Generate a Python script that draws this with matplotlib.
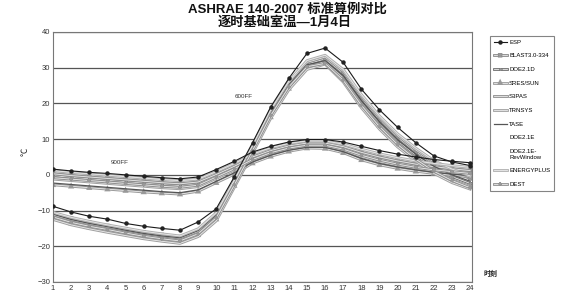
import matplotlib
matplotlib.use("Agg")
import matplotlib.pyplot as plt
import matplotlib.patheffects as pe

plt.rcParams['font.family'] = ['Liberation Sans', 'Noto Sans CJK SC', 'DejaVu Sans']

hours = list(range(1, 25))
programs = ["ESP", "BLAST3.0-334", "DOE2.1D", "SRES/SUN", "S3PAS", "TRNSYS", "TASE",
            "DOE2.1E", "DOE2.1E-\nRevWindow", "ENERGYPLUS", "DEST"]

esp_600 = [-8.8, -10.4, -11.6, -12.4, -13.6, -14.4, -15.0, -15.5, -13.2, -9.5, -0.5, 9.0, 19.0, 27.0, 34.0, 35.5, 31.5, 24.0, 18.2, 13.3, 9.0, 5.3, 3.6, 2.6]
blast_600 = [-10.8, -12.2, -13.3, -14.3, -15.2, -16.1, -16.8, -17.4, -15.5, -11.0, -2.0, 7.5, 17.5, 25.5, 31.0, 32.5, 28.5, 21.5, 15.5, 10.5, 6.5, 3.2, 0.8, -1.0]
doe21d_600 = [-11.5, -13.0, -14.1, -15.0, -15.9, -16.8, -17.5, -18.1, -16.2, -11.8, -2.6, 7.0, 17.0, 25.0, 30.5, 31.5, 27.2, 20.3, 14.5, 9.5, 5.5, 2.0, -0.5, -2.4]
sres_600 = [-12.0, -13.5, -14.6, -15.6, -16.5, -17.4, -18.1, -18.7, -16.8, -12.4, -3.0, 6.5, 16.2, 24.2, 30.0, 31.8, 27.0, 19.8, 13.8, 8.8, 4.6, 1.2, -1.4, -3.2]
s3pas_600 = [-11.2, -12.6, -13.7, -14.6, -15.5, -16.4, -17.1, -17.7, -15.8, -11.3, -2.2, 7.7, 17.8, 25.8, 31.5, 33.0, 29.0, 22.0, 16.0, 11.0, 7.0, 3.6, 1.2, -0.6]
trnsys_600 = [-12.5, -14.0, -15.1, -16.1, -17.0, -17.9, -18.6, -19.2, -17.3, -12.9, -3.5, 6.0, 15.8, 23.8, 29.5, 31.0, 26.0, 18.8, 12.8, 7.8, 3.8, 0.4, -2.2, -4.0]
tase_600 = [-11.0, -12.5, -13.6, -14.5, -15.5, -16.4, -17.1, -17.6, -15.6, -11.2, -2.3, 7.2, 17.2, 25.2, 30.8, 32.0, 27.8, 20.8, 14.8, 9.8, 5.8, 2.4, 0.0, -1.8]
doe21e_600 = [-11.3, -12.8, -13.9, -14.8, -15.7, -16.6, -17.3, -17.9, -16.0, -11.5, -2.4, 7.3, 17.3, 25.3, 30.9, 32.2, 27.6, 20.6, 14.6, 9.6, 5.6, 2.2, -0.2, -2.0]
doe21e_rw_600 = [-11.6, -13.1, -14.2, -15.1, -16.0, -16.9, -17.6, -18.2, -16.3, -11.9, -2.7, 6.9, 16.9, 24.9, 30.4, 31.6, 27.0, 20.0, 14.1, 9.1, 5.1, 1.7, -0.8, -2.7]
eplus_600 = [-10.5, -11.9, -13.0, -14.0, -14.9, -15.8, -16.5, -17.1, -15.1, -10.6, -1.5, 8.2, 18.2, 26.2, 32.0, 33.5, 29.5, 22.5, 16.5, 11.5, 7.5, 4.0, 1.6, -0.3]
dest_600 = [-11.8, -13.3, -14.4, -15.3, -16.3, -17.2, -17.9, -18.5, -16.5, -12.0, -2.8, 6.8, 16.6, 24.6, 30.3, 31.2, 26.5, 19.5, 13.5, 8.5, 4.4, 1.0, -1.6, -3.6]

esp_900 = [1.6, 1.1, 0.7, 0.4, 0.0, -0.4, -0.8, -1.1, -0.6, 1.5, 3.8, 6.4, 8.0, 9.2, 9.9, 9.9, 9.2, 8.0, 6.8, 5.8, 5.0, 4.3, 3.8, 3.4]
blast_900 = [0.8, 0.3, -0.1, -0.5, -0.9, -1.3, -1.7, -2.0, -1.6, 0.5, 2.8, 5.4, 7.2, 8.4, 9.2, 9.2, 8.3, 6.8, 5.5, 4.4, 3.5, 2.8, 2.2, 1.7]
doe21d_900 = [-0.2, -0.7, -1.1, -1.5, -1.9, -2.3, -2.7, -3.0, -2.5, -0.3, 2.0, 4.6, 6.5, 7.8, 8.6, 8.6, 7.6, 5.9, 4.5, 3.4, 2.5, 1.8, 1.2, 0.7]
sres_900 = [-2.8, -3.2, -3.6, -4.0, -4.4, -4.8, -5.1, -5.4, -4.6, -2.2, 0.2, 3.3, 5.2, 6.6, 7.5, 7.4, 6.2, 4.2, 2.8, 1.8, 1.0, 0.4, -0.1, -0.5]
s3pas_900 = [0.3, -0.2, -0.6, -1.0, -1.4, -1.8, -2.2, -2.5, -2.0, 0.1, 2.4, 5.0, 6.8, 8.1, 8.9, 8.9, 7.9, 6.3, 5.0, 3.9, 3.0, 2.3, 1.7, 1.2]
trnsys_900 = [-1.2, -1.6, -2.0, -2.4, -2.8, -3.2, -3.6, -3.9, -3.3, -1.0, 1.3, 4.0, 6.0, 7.3, 8.1, 8.0, 6.9, 5.1, 3.7, 2.6, 1.8, 1.1, 0.6, 0.1]
tase_900 = [-2.3, -2.7, -3.1, -3.5, -3.9, -4.3, -4.7, -5.0, -4.2, -1.8, 0.6, 3.6, 5.5, 6.9, 7.7, 7.7, 6.5, 4.6, 3.2, 2.2, 1.4, 0.7, 0.2, -0.2]
doe21e_900 = [-0.5, -1.0, -1.4, -1.8, -2.2, -2.6, -3.0, -3.3, -2.8, -0.5, 1.8, 4.4, 6.3, 7.6, 8.4, 8.4, 7.4, 5.7, 4.3, 3.2, 2.3, 1.6, 1.0, 0.5]
doe21e_rw_900 = [-0.6, -1.1, -1.5, -1.9, -2.3, -2.7, -3.1, -3.4, -2.9, -0.6, 1.7, 4.3, 6.2, 7.5, 8.3, 8.3, 7.3, 5.6, 4.2, 3.1, 2.2, 1.5, 0.9, 0.4]
eplus_900 = [1.2, 0.7, 0.3, -0.1, -0.5, -0.9, -1.3, -1.6, -1.2, 0.9, 3.2, 5.8, 7.6, 8.8, 9.5, 9.5, 8.6, 7.2, 5.9, 4.8, 3.9, 3.2, 2.6, 2.1]
dest_900 = [-0.8, -1.2, -1.6, -2.0, -2.4, -2.8, -3.2, -3.5, -2.9, -0.6, 1.7, 4.3, 6.2, 7.5, 8.3, 8.3, 7.2, 5.5, 4.1, 3.0, 2.1, 1.4, 0.9, 0.4]

y_ticks = [-30, -20, -10, 0, 10, 20, 30, 40]

series_600 = [esp_600, blast_600, doe21d_600, sres_600, s3pas_600, trnsys_600, tase_600,
              doe21e_600, doe21e_rw_600, eplus_600, dest_600]
series_900 = [esp_900, blast_900, doe21d_900, sres_900, s3pas_900, trnsys_900, tase_900,
              doe21e_900, doe21e_rw_900, eplus_900, dest_900]

styles = [
    dict(color='#1a1a1a', lw=0.8, marker='o', ms=2.2, tube=None),
    dict(color='#ececec', lw=0.6, marker='s', ms=1.2, tube='#8a8a8a'),
    dict(color='#ececec', lw=0.6, marker='+', ms=2.0, tube='#707070'),
    dict(color='#ececec', lw=0.6, marker='^', ms=1.2, tube='#9a9a9a'),
    dict(color='#ececec', lw=0.6, marker=None, ms=0, tube='#8f8f8f'),
    dict(color='#ececec', lw=0.6, marker=None, ms=0, tube='#a0a0a0'),
    dict(color='#555555', lw=0.9, marker=None, ms=0, tube=None),
    dict(color='#ffffff', lw=0.0, marker=None, ms=0, tube=None),
    dict(color='#ffffff', lw=0.0, marker=None, ms=0, tube=None),
    dict(color='#ececec', lw=0.6, marker=None, ms=0, tube='#b0b0b0'),
    dict(color='#ececec', lw=0.6, marker='x', ms=1.4, tube='#909090'),
]

fig = plt.figure(figsize=(5.81, 2.93), dpi=100)
ax = fig.add_axes([53/581, 1-282/293, (472-53)/581, (282-32)/293])

handles = []
for name, s6, s9, st in zip(programs, series_600, series_900, styles):
    pes = [pe.withStroke(linewidth=2.0, foreground=st['tube'])] if st['tube'] else None
    for k, data in enumerate((s6, s9)):
        ln, = ax.plot(hours, data, color=st['color'], lw=st['lw'], marker=st['marker'],
                      ms=st['ms'], mfc='#222222' if st['tube'] is None else '#999999',
                      mec='#222222' if st['tube'] is None else '#999999',
                      label=name if k == 0 else None, zorder=3 if name == "ESP" else 2)
        if pes:
            ln.set_path_effects(pes)
        if k == 0:
            handles.append(ln)

ax.set_xlim(1, 24.1)
ax.set_ylim(-30, 40)
ax.set_yticks(y_ticks)
ax.set_xticks(hours)
ax.tick_params(axis='both', labelsize=5.5, length=0, colors='#333333', pad=2)
ax.yaxis.grid(True, color='#555555', lw=0.9)
ax.set_axisbelow(True)
for sp in ax.spines.values():
    sp.set_color('#777777')
    sp.set_linewidth(0.8)

ax.text(11.5, 21.8, "600FF", fontsize=4.5, color='#333333', ha='center', va='center')
ax.text(4.7, 3.6, "900FF", fontsize=4.5, color='#333333', ha='center', va='center')

leg = fig.legend(handles=handles, loc='upper left', bbox_to_anchor=(487/581, 1-33/293),
                 fontsize=4.3, frameon=True, fancybox=False, edgecolor='#666666',
                 handlelength=2.2, labelspacing=1.42, borderpad=0.6, handletextpad=0.4)
leg.get_frame().set_linewidth(0.8)

fig.text(287/581, 1-9/293, "ASHRAE 140-2007 标准算例对比", fontsize=9.5, fontweight='bold',
         ha='center', va='center', color='#111111')
fig.text(285/581, 1-22/293, "逐时基础室温—1月4日", fontsize=9.5, fontweight='bold',
         ha='center', va='center', color='#111111')
fig.text(25/581, 1-152/293, "℃", fontsize=6, rotation=90, ha='center', va='center',
         color='#222222', family=['Noto Sans CJK SC', 'DejaVu Sans'])
fig.text(491/581, 1-274/293, "时刻", fontsize=5, fontweight='bold', ha='center',
         va='center', color='#222222')

fig.savefig("out.png", dpi=100, facecolor='white')
